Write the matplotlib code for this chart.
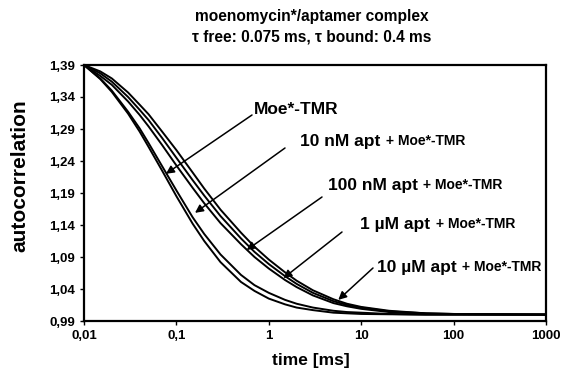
import matplotlib
matplotlib.use("Agg")
import matplotlib.pyplot as plt

plt.rcParams["font.family"] = ["Liberation Sans", "DejaVu Sans"]
plt.rcParams["font.weight"] = "bold"

# one value per time point
time_ms = [0.01, 0.015, 0.02, 0.03, 0.04, 0.05, 0.07, 0.1, 0.15, 0.2, 0.3, 0.5,
           0.7, 1, 1.5, 2, 3, 5, 7, 10, 20, 50, 100, 1000]
moe_tmr = [1.390, 1.368, 1.348, 1.314, 1.286, 1.262, 1.225, 1.185, 1.142, 1.115, 1.082, 1.051,
           1.037, 1.025, 1.016, 1.011, 1.007, 1.003, 1.002, 1.001, 1.0005, 1.000, 1.000, 1.000]
apt_10nM = [1.390, 1.369, 1.350, 1.317, 1.291, 1.268, 1.232, 1.194, 1.152, 1.126, 1.094, 1.062,
            1.046, 1.034, 1.023, 1.017, 1.011, 1.006, 1.004, 1.003, 1.001, 1.000, 1.000, 1.000]
apt_100nM = [1.390, 1.373, 1.359, 1.333, 1.312, 1.294, 1.265, 1.233, 1.198, 1.174, 1.143, 1.110,
             1.090, 1.072, 1.054, 1.043, 1.030, 1.018, 1.013, 1.009, 1.004, 1.001, 1.0005, 1.000]
apt_1uM = [1.390, 1.377, 1.364, 1.340, 1.320, 1.304, 1.276, 1.245, 1.210, 1.186, 1.154, 1.119,
           1.098, 1.079, 1.060, 1.048, 1.034, 1.021, 1.015, 1.011, 1.005, 1.002, 1.001, 1.000]
apt_10uM = [1.390, 1.380, 1.369, 1.347, 1.328, 1.313, 1.286, 1.257, 1.222, 1.197, 1.164, 1.128,
            1.106, 1.086, 1.066, 1.053, 1.038, 1.024, 1.017, 1.012, 1.006, 1.002, 1.001, 1.000]

x_ticks = [0.01, 0.1, 1, 10, 100, 1000]
x_tick_labels = ["0,01", "0,1", "1", "10", "100", "1000"]
y_ticks = [0.99, 1.04, 1.09, 1.14, 1.19, 1.24, 1.29, 1.34, 1.39]
y_tick_labels = ["0,99", "1,04", "1,09", "1,14", "1,19", "1,24", "1,29", "1,34", "1,39"]

series = [moe_tmr, apt_10nM, apt_100nM, apt_1uM, apt_10uM]

# label text, small suffix, arrow tip (time, value)
labels = [
    ("Moe*-TMR", "", (0.077, 1.220)),
    ("10 nM apt", "+ Moe*-TMR", (0.159, 1.159)),
    ("100 nM apt", "+ Moe*-TMR", (0.577, 1.101)),
    ("1 µM apt", "+ Moe*-TMR", (1.44, 1.057)),
    ("10 µM apt", "+ Moe*-TMR", (5.65, 1.023)),
]

W, H = 564, 376
fig = plt.figure(figsize=(W / 100, H / 100), dpi=100)
ax = fig.add_axes([84 / W, 1 - 321 / H, (546 - 84) / W, (321 - 65) / H])


def px(x, y):
    # pixel position (from top-left) -> figure fraction
    return (x / W, 1 - y / H)


for vals in series:
    ax.plot(time_ms, vals, color="black", lw=1.4)

ax.set_xscale("log")
ax.set_xlim(0.01, 1000)
ax.set_ylim(0.99, 1.39)
ax.set_xticks(x_ticks)
ax.set_xticklabels(x_tick_labels)
ax.set_yticks(y_ticks)
ax.set_yticklabels(y_tick_labels)
ax.minorticks_off()
ax.tick_params(labelsize=9.5, length=3, width=1)
for sp in ax.spines.values():
    sp.set_linewidth(1.6)

fig.text(*px(311, 361), "time [ms]", ha="center", va="center", fontsize=12.5,
         fontweight="bold")
fig.text(*px(20, 176), "autocorrelation", ha="center", va="center", rotation=90,
         fontsize=15, fontweight="bold")

fig.text(*px(312, 17), "moenomycin*/aptamer complex", ha="center", va="center",
         fontsize=11.2, fontweight="bold")
fig.text(*px(312, 37), "τ free: 0.075 ms, τ bound: 0.4 ms", ha="center", va="center",
         fontsize=11.2, fontweight="bold")

# text start (x, baseline) and arrow tail, in pixels
text_pos = [(254, 114), (300, 146), (328, 190), (360, 229), (377, 272)]
tail_pos = [(252, 115), (285, 148), (322, 197), (342, 232), (373, 268)]

for (main, small, tip), tp, tl in zip(labels, text_pos, tail_pos):
    t = fig.text(*px(*tp), main, ha="left", va="baseline", fontsize=12.5, fontweight="bold")
    if small:
        ax.annotate(" " + small, xy=(1, 0), xycoords=t, xytext=(1, 0.5),
                    textcoords="offset points", ha="left", va="bottom",
                    fontsize=10, fontweight="bold", annotation_clip=False)
    ax.annotate("", xy=tip, xycoords="data", xytext=px(*tl), textcoords="figure fraction",
                arrowprops=dict(arrowstyle="-|>", color="black", lw=1.1,
                                mutation_scale=12, shrinkA=0, shrinkB=0))

fig.savefig("out.png", dpi=100)
